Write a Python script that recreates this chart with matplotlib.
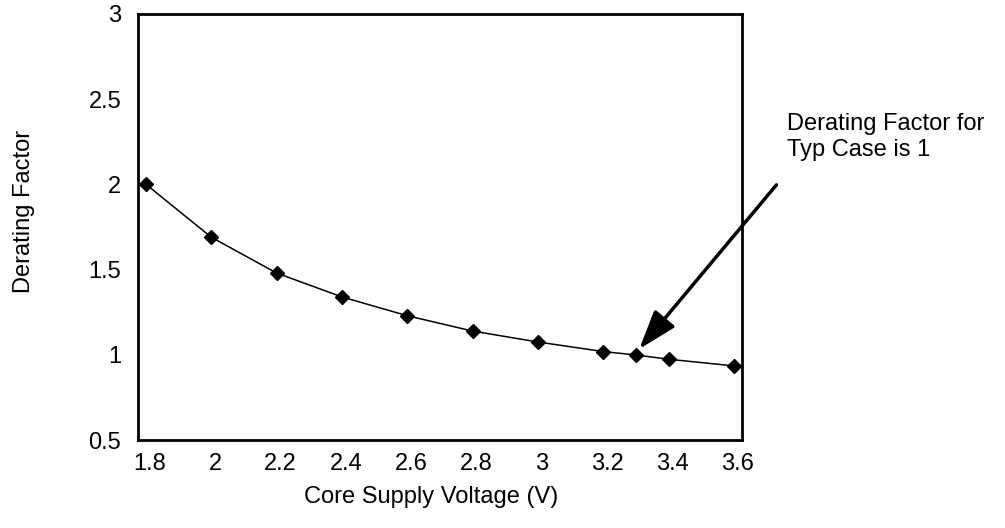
import matplotlib
matplotlib.use('Agg')
import matplotlib.pyplot as plt
import matplotlib.transforms as mtransforms

plt.rcParams['font.family'] = ['Liberation Sans', 'DejaVu Sans']

# Derating factor vs core supply voltage
voltage = [1.8, 2.0, 2.2, 2.4, 2.6, 2.8, 3.0, 3.2, 3.3, 3.4, 3.6]
derating = [2.0, 1.69, 1.48, 1.34, 1.23, 1.14, 1.076, 1.02, 1.0, 0.975, 0.936]

x_ticks = [1.8, 2.0, 2.2, 2.4, 2.6, 2.8, 3.0, 3.2, 3.4, 3.6]
x_tick_labels = ['1.8', '2', '2.2', '2.4', '2.6', '2.8', '3', '3.2', '3.4', '3.6']
y_ticks = [0.5, 1.0, 1.5, 2.0, 2.5, 3.0]
y_tick_labels = ['0.5', '1', '1.5', '2', '2.5', '3']

note = 'Derating Factor for\nTyp Case is 1'
note_tip = (3.31, 1.035)
note_tail = (3.73, 1.997)

W, H = 1005, 528
fig = plt.figure(figsize=(W / 100, H / 100), dpi=100)
ax = fig.add_axes([138 / W, 1 - 440.3 / H, 604 / W, 426.6 / H])

ax.plot(voltage, derating, color='black', lw=1.1, marker='D', ms=7,
        markerfacecolor='black', markeredgecolor='black')

ax.set_xlim(1.7755, 3.6245)
ax.set_ylim(0.5, 3.0)
ax.set_xticks(x_ticks)
ax.set_xticklabels(x_tick_labels)
ax.set_yticks(y_ticks)
ax.set_yticklabels(y_tick_labels)
ax.tick_params(axis='both', length=0, labelsize=17)
ax.tick_params(axis='x', pad=9)
ax.tick_params(axis='y', pad=12)

# tick labels sit a few pixels right of the points in the original
shift = mtransforms.ScaledTranslation(0.04, 0, fig.dpi_scale_trans)
for lbl in ax.get_xticklabels():
    lbl.set_transform(lbl.get_transform() + shift)

for sp in ax.spines.values():
    sp.set_linewidth(2)

fig.text(431 / W, 1 - 497 / H, 'Core Supply Voltage (V)', fontsize=17,
         ha='center', va='center')
fig.text(24 / W, 1 - 211 / H, 'Derating Factor', fontsize=17,
         rotation=90, ha='center', va='center')

ax.annotate('', xy=note_tip, xytext=note_tail, annotation_clip=False,
            arrowprops=dict(arrowstyle='-|>,head_length=0.8,head_width=0.27',
                            mutation_scale=30, lw=2.5, color='black',
                            shrinkA=0, shrinkB=0))
fig.text(786.7 / W, 1 - 137 / H, note, fontsize=17, ha='left',
         va='center', linespacing=1.22)

fig.savefig('out.png', dpi=100)
